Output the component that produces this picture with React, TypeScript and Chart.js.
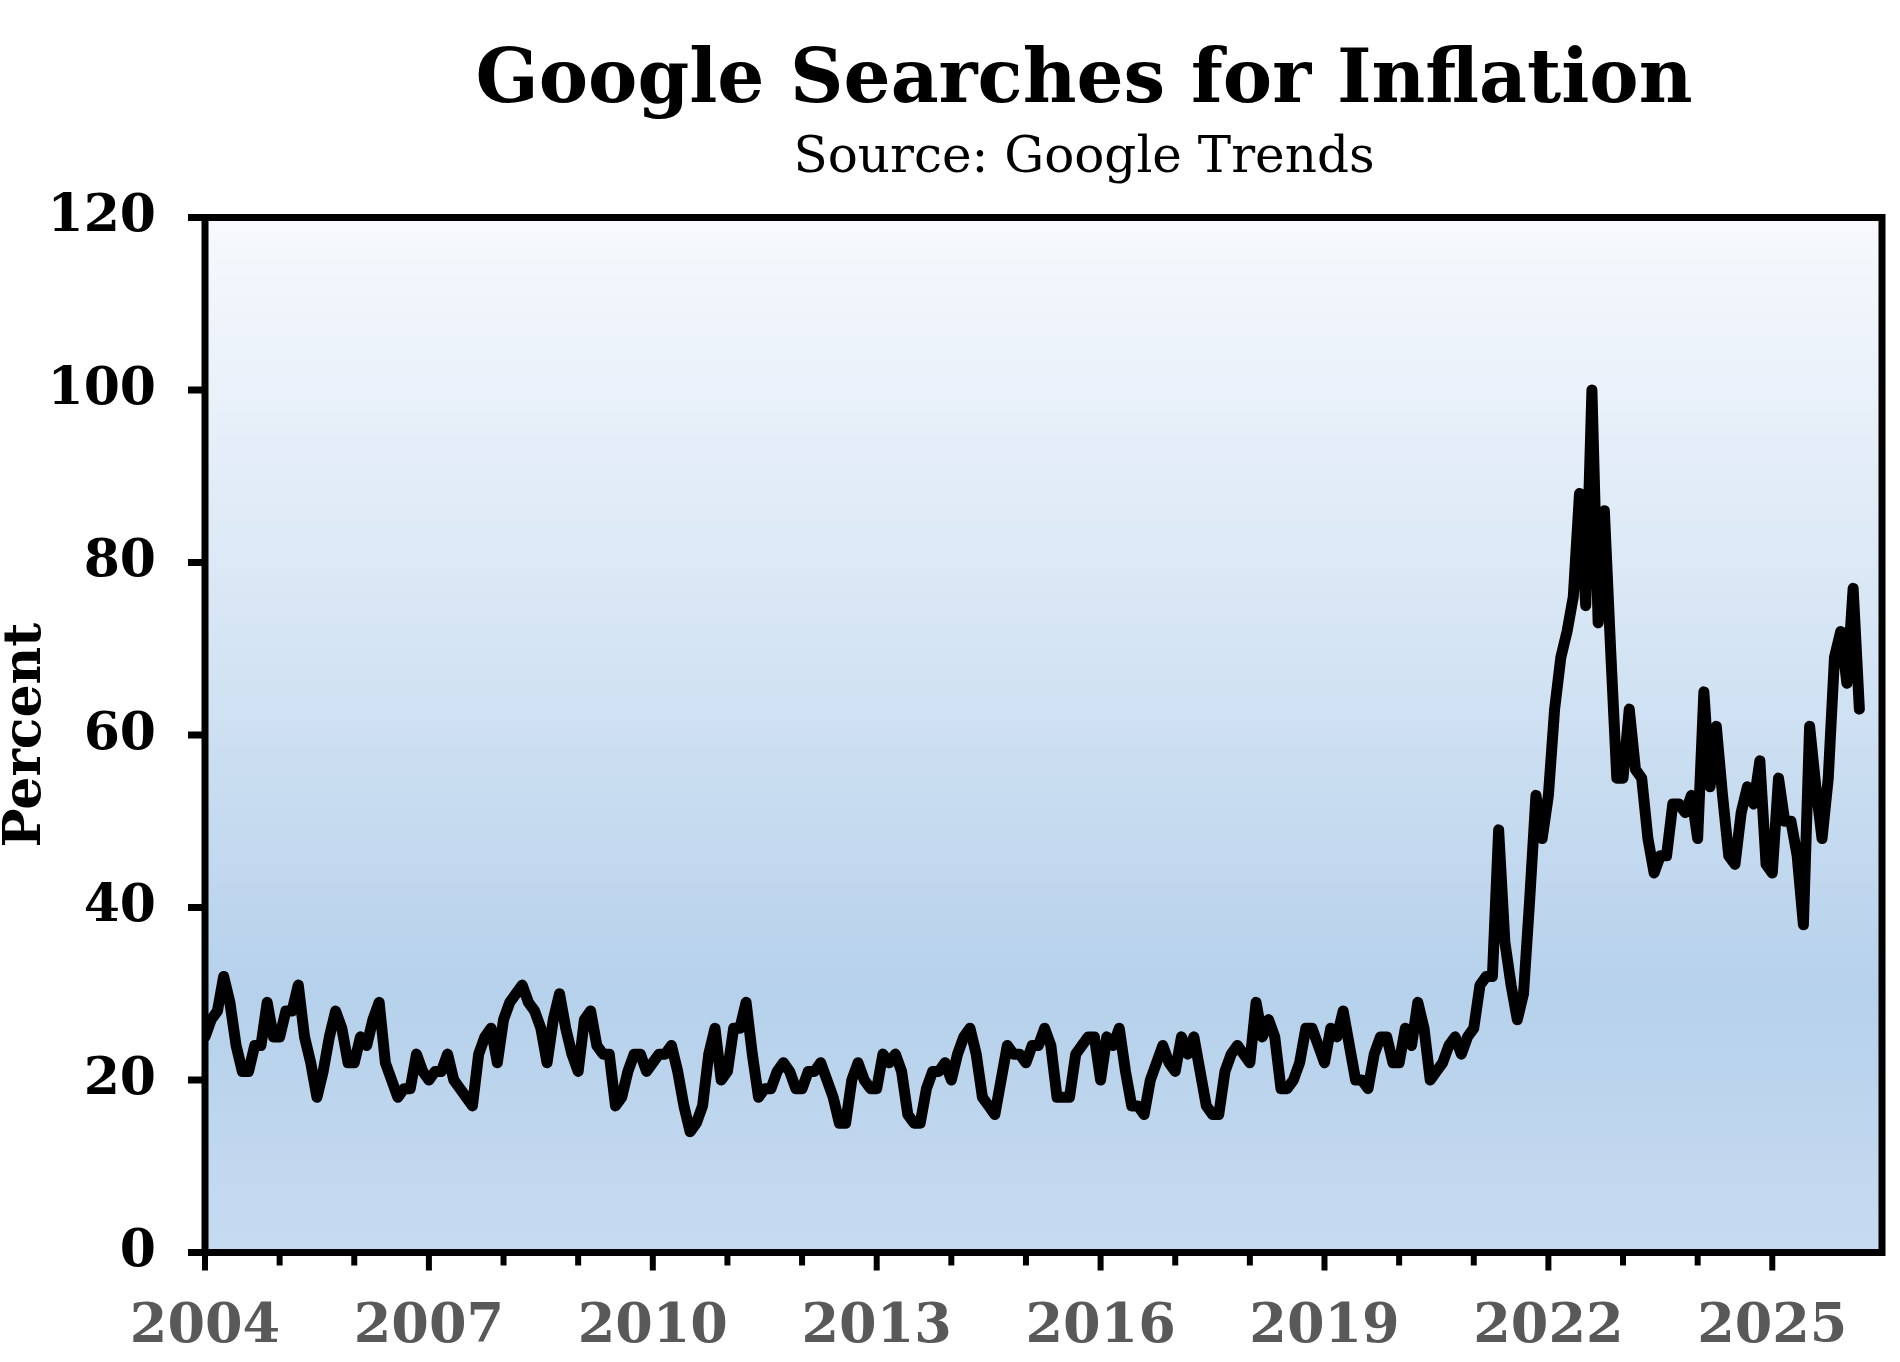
import { useEffect, useRef } from "react";
import { Chart, registerables } from "chart.js";

Chart.register(...registerables);

const START_YEAR = 2004;
const END_YEAR = 2026.47;

// Google Trends index for "inflation", one value per month from Jan 2004
const searches2004to2008 = [
  25, 27, 28, 32, 29, 24, 21, 21, 24, 24, 29, 25,
  25, 28, 28, 31, 25, 22, 18, 21, 25, 28, 26, 22,
  22, 25, 24, 27, 29, 22, 20, 18, 19, 19, 23, 21,
  20, 21, 21, 23, 20, 19, 18, 17, 23, 25, 26, 22,
  27, 29, 30, 31, 29, 28, 26, 22, 27, 30, 26, 23,
];
const searches2009to2013 = [
  21, 27, 28, 24, 23, 23, 17, 18, 21, 23, 23, 21,
  22, 23, 23, 24, 21, 17, 14, 15, 17, 23, 26, 20,
  21, 26, 26, 29, 23, 18, 19, 19, 21, 22, 21, 19,
  19, 21, 21, 22, 20, 18, 15, 15, 20, 22, 20, 19,
  19, 23, 22, 23, 21, 16, 15, 15, 19, 21, 21, 22,
];
const searches2014to2018 = [
  20, 23, 25, 26, 23, 18, 17, 16, 20, 24, 23, 23,
  22, 24, 24, 26, 24, 18, 18, 18, 23, 24, 25, 25,
  20, 25, 24, 26, 21, 17, 17, 16, 20, 22, 24, 22,
  21, 25, 23, 25, 21, 17, 16, 16, 21, 23, 24, 23,
  22, 29, 25, 27, 25, 19, 19, 20, 22, 26, 26, 24,
];
const searches2019to2022 = [
  22, 26, 25, 28, 24, 20, 20, 19, 23, 25, 25, 22,
  22, 26, 24, 29, 26, 20, 21, 22, 24, 25, 23, 25,
  26, 31, 32, 32, 49, 36, 31, 27, 30, 41, 53, 48,
  53, 63, 69, 72, 76, 88, 75, 100, 73, 86, 70, 55,
];
const searches2023to2026 = [
  55, 63, 56, 55, 48, 44, 46, 46, 52, 52, 51, 53,
  48, 65, 54, 61, 53, 46, 45, 51, 54, 52, 57, 45,
  44, 55, 50, 50, 46, 38, 61, 54, 48, 55, 69, 72,
  66, 77, 63,
];

const yTicks = [0, 20, 40, 60, 80, 100, 120];
const labelEvery = 3;

const monthly = [
  ...searches2004to2008,
  ...searches2009to2013,
  ...searches2014to2018,
  ...searches2019to2022,
  ...searches2023to2026,
];

const points = monthly.map((v, i) => ({ x: START_YEAR + i / 12, y: v }));

const isWholeYear = (v: number) => Math.abs(v - Math.round(v)) < 1e-6;

// light-to-blue fill behind the plot
const backgroundPlugin = {
  id: "plotBackground",
  beforeDraw(chart: Chart) {
    const { ctx, chartArea: a } = chart;
    const g = ctx.createLinearGradient(0, a.top, 0, a.bottom);
    g.addColorStop(0, "#f7f9fd");
    g.addColorStop(0.4, "#d6e5f4");
    g.addColorStop(0.75, "#b6d1eb");
    g.addColorStop(1, "#c6dbf0");
    ctx.save();
    ctx.fillStyle = g;
    ctx.fillRect(a.left, a.top, a.right - a.left, a.bottom - a.top);
    ctx.restore();
  },
};

// box around the plot plus outward tick marks
const framePlugin = {
  id: "frame",
  afterDatasetsDraw(chart: Chart) {
    const { ctx, chartArea: a, scales } = chart;
    ctx.save();
    ctx.strokeStyle = "#000";
    ctx.lineWidth = 7;
    ctx.strokeRect(a.left, a.top, a.right - a.left, a.bottom - a.top);
    ctx.beginPath();
    for (const t of scales.y.ticks) {
      const y = scales.y.getPixelForValue(t.value);
      ctx.moveTo(a.left - 17, y);
      ctx.lineTo(a.left, y);
    }
    ctx.stroke();
    ctx.lineWidth = 6;
    ctx.beginPath();
    for (const t of scales.x.ticks) {
      if (!isWholeYear(t.value)) continue;
      const x = scales.x.getPixelForValue(t.value);
      const major = Math.round(t.value - START_YEAR) % labelEvery === 0;
      ctx.moveTo(x, a.bottom);
      ctx.lineTo(x, a.bottom + (major ? 18 : 13));
    }
    ctx.stroke();
    ctx.restore();
  },
};

const headerPlugin = {
  id: "header",
  afterDraw(chart: Chart) {
    const { ctx } = chart;
    ctx.save();
    ctx.fillStyle = "#000";
    ctx.textAlign = "center";
    ctx.textBaseline = "alphabetic";
    ctx.font = "bold 74px 'DejaVu Serif'";
    ctx.fillText("Google Searches for Inflation", 1084, 102);
    ctx.font = "50px 'DejaVu Serif'";
    ctx.fillText("Source: Google Trends", 1084, 172);
    ctx.restore();
  },
};

export default function App() {
  const canvasRef = useRef<HTMLCanvasElement | null>(null);

  useEffect(() => {
    document.body.style.margin = "0";
    if (!canvasRef.current) return;

    const chart = new Chart(canvasRef.current, {
      type: "line",
      data: {
        datasets: [
          {
            label: "Inflation searches",
            data: points,
            borderColor: "#000000",
            borderWidth: 11,
            borderJoinStyle: "round",
            borderCapStyle: "round",
            tension: 0,
            pointRadius: 0,
            fill: false,
          },
        ],
      },
      options: {
        responsive: false,
        animation: false,
        devicePixelRatio: 1,
        layout: {
          padding: { top: 217.5, right: 18, bottom: 0, left: 0 },
        },
        plugins: {
          legend: { display: false },
          tooltip: { enabled: false },
        },
        scales: {
          x: {
            type: "linear",
            min: START_YEAR,
            max: END_YEAR,
            grid: { display: false, drawTicks: false },
            border: { display: false },
            afterFit: (scale) => {
              scale.height = 109.5;
              // the last label is blank, so no room is needed on the right
              scale.paddingRight = 0;
            },
            ticks: {
              stepSize: 1,
              autoSkip: false,
              maxRotation: 0,
              minRotation: 0,
              padding: 43,
              color: "#595959",
              font: { family: "DejaVu Serif", size: 54, weight: "bold" },
              callback: (value) => {
                const v = Number(value);
                return isWholeYear(v) && Math.round(v - START_YEAR) % labelEvery === 0
                  ? String(Math.round(v))
                  : "";
              },
            },
          },
          y: {
            min: yTicks[0],
            max: yTicks[yTicks.length - 1],
            grid: { display: false, drawTicks: false },
            border: { display: false },
            afterFit: (scale) => {
              scale.width = 205;
            },
            afterBuildTicks: (scale) => {
              scale.ticks = yTicks.map((v) => ({ value: v }));
            },
            ticks: {
              padding: 49,
              color: "#000000",
              font: { family: "DejaVu Serif", size: 52, weight: "bold" },
            },
            title: {
              display: true,
              text: "Percent",
              color: "#000000",
              padding: 0,
              font: { family: "DejaVu Serif", size: 52, weight: "bold", lineHeight: 1 },
            },
          },
        },
      },
      plugins: [backgroundPlugin, framePlugin, headerPlugin],
    });

    return () => chart.destroy();
  }, []);

  return (
    <div style={{ width: 1900, height: 1362, background: "#ffffff" }}>
      <canvas ref={canvasRef} width={1900} height={1362} style={{ display: "block" }} />
    </div>
  );
}
